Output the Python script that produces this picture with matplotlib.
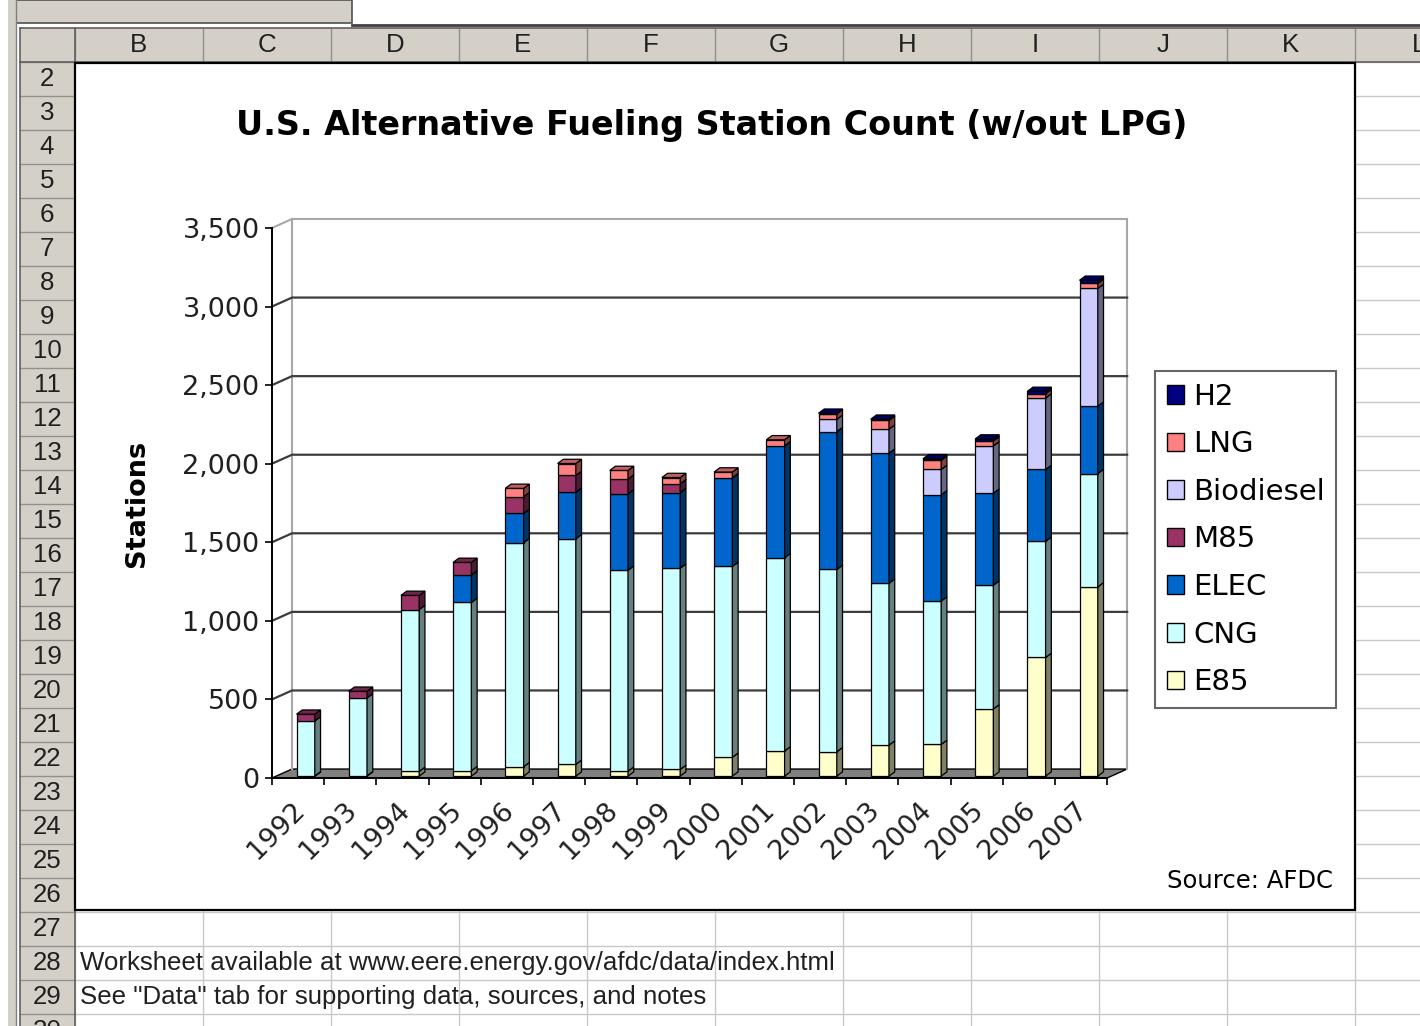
import matplotlib
matplotlib.use('Agg')
import matplotlib.pyplot as plt
from matplotlib.patches import Rectangle, Polygon, Patch
from matplotlib.colors import to_rgb
from matplotlib import font_manager
import numpy as np

# station counts, 1992-2007
years = [str(y) for y in range(1992, 2008)]
e85 = [1, 2, 30, 35, 60, 75, 32, 43, 120, 160, 155, 197, 202, 427, 755, 1204]
cng = [350, 495, 1030, 1070, 1425, 1435, 1278, 1280, 1214, 1230, 1160, 1030, 912, 788, 739, 721]
elec = [0, 0, 0, 175, 187, 296, 486, 481, 565, 712, 877, 828, 676, 585, 457, 429]
m85 = [43, 43, 90, 80, 106, 107, 94, 56, 0, 0, 0, 0, 0, 0, 0, 0]
biodiesel = [0, 0, 0, 0, 0, 0, 0, 0, 0, 0, 78, 153, 161, 301, 455, 749]
lng = [0, 0, 0, 0, 53, 76, 55, 40, 36, 38, 35, 55, 58, 32, 27, 32]
h2 = [0, 0, 0, 0, 0, 0, 0, 0, 0, 0, 4, 8, 10, 12, 15, 20]

series = ['E85', 'CNG', 'ELEC', 'M85', 'Biodiesel', 'LNG', 'H2']
values = [e85, cng, elec, m85, biodiesel, lng, h2]
colors = ['#FFFFCC', '#CCFFFF', '#0066CC', '#993366', '#CCCCFF', '#FF8080', '#000080']

yticks = list(range(0, 3501, 500))
col_letters = ['B', 'C', 'D', 'E', 'F', 'G', 'H', 'I', 'J', 'K', 'L']
row_numbers = list(range(2, 31))
notes = ['Worksheet available at www.eere.energy.gov/afdc/data/index.html',
         'See "Data" tab for supporting data, sources, and notes']

installed = {f.name for f in font_manager.fontManager.ttflist}
if 'Liberation Sans Narrow' in installed:
    sheet_font, sheet_fs = 'Liberation Sans Narrow', 21
else:
    sheet_font, sheet_fs = 'Liberation Sans', 18.6


def shade(c, f):
    return tuple(np.array(to_rgb(c)) * f)


fig = plt.figure(figsize=(14.2, 10.26), dpi=100)

############### spreadsheet background ###############
bg = fig.add_axes([0, 0, 1, 1])
bg.set_xlim(0, 1420)
bg.set_ylim(1026, 0)
bg.axis('off')

hdr = '#D4D0C8'
col_edges = [75 + 128 * k for k in range(11)]
row_edges = [62 + 34 * k for k in range(30)]

for x in col_edges:
    bg.plot([x, x], [62, 1026], color='#C8C8C8', lw=1)
for y in row_edges:
    bg.plot([75, 1420], [y, y], color='#C8C8C8', lw=1)

bg.add_patch(Rectangle((20, 62), 55, 964, fc=hdr, ec='none'))
bg.add_patch(Rectangle((20, 28), 1400, 34, fc=hdr, ec='none'))
for y in row_edges:
    bg.plot([20, 75], [y, y], color='#909090', lw=1)
for x in col_edges:
    bg.plot([x, x], [28, 62], color='#909090', lw=1)
bg.plot([75, 75], [28, 1026], color='#606060', lw=1.2)
bg.plot([20, 1420], [62, 62], color='#606060', lw=1.2)
bg.plot([20, 20], [28, 1026], color='#606060', lw=1.2)
bg.plot([20, 1420], [28, 28], color='#606060', lw=1.2)

bg.add_patch(Rectangle((15, 0), 337, 23, fc=hdr, ec='#505050', lw=1.2))
bg.plot([352, 1420], [25, 25], color='#404040', lw=2)
bg.add_patch(Rectangle((8, 0), 8, 1026, fc=hdr, ec='none'))
bg.plot([16, 16], [0, 1026], color='#808080', lw=1)

for k, letter in enumerate(col_letters):
    bg.text(col_edges[0] + 128 * k + 64, 45, letter, ha='center', va='center',
            fontsize=sheet_fs, family=sheet_font, color='#202020')
for k, n in enumerate(row_numbers):
    bg.text(47, 62 + 34 * k + 17, str(n), ha='center', va='center',
            fontsize=sheet_fs, family=sheet_font, color='#202020')

for k, line in enumerate(notes):
    bg.text(80, 963 + 34 * k, line, ha='left', va='center',
            fontsize=sheet_fs, family=sheet_font, color='#202020')

# chart area
bg.add_patch(Rectangle((75, 63), 1280, 847, fc='white', ec='black', lw=1.6, zorder=5))
bg.text(712, 125, 'U.S. Alternative Fueling Station Count (w/out LPG)', ha='center',
        va='center', fontsize=24, fontweight='bold', zorder=6)
bg.text(137, 503, 'Stations', ha='center', va='center', rotation=90, fontsize=19.5,
        fontweight='bold', zorder=6)
bg.text(1333, 881, 'Source: AFDC', ha='right', va='center', fontsize=17.5, zorder=6)

############### 3D-look stacked bars ###############
ax = fig.add_axes([262 / 1420, (1026 - 800) / 1026, 873 / 1420, 595 / 1026])
ax.set_xlim(-0.1916, 16.533)
ax.set_ylim(-140, 3646)
ax.patch.set_alpha(0)

n = len(years)
WX, WY = 0.383, 57          # wall depth offset
BX0, BW = 0.47, 0.35        # bar front position / width in a slot
DX, DY = 0.11, 27           # bar depth offset
B0 = 12

# floor and walls
ax.add_patch(Polygon([(0, 0), (n, 0), (n + WX, WY), (WX, WY)], closed=True,
                     fc='#808080', ec='black', lw=1, zorder=1))
wall = '#A8A8A8'
ax.plot([WX, WX], [WY, 3500 + WY], color=wall, lw=1.5, zorder=1)
ax.plot([n + WX, n + WX], [WY, 3500 + WY], color=wall, lw=1.5, zorder=1)
ax.plot([WX, n + WX], [3500 + WY] * 2, color=wall, lw=1.5, zorder=1)
ax.plot([0, WX], [3500, 3500 + WY], color=wall, lw=1.5, zorder=1)
for v in yticks[1:-1]:
    ax.plot([0, WX, n + WX], [v, v + WY, v + WY], color='#3C3C3C', lw=1.6, zorder=1)

for i in range(n):
    bottom = B0
    last = None
    for vals, c in zip(values, colors):
        v = vals[i]
        if v <= 0:
            continue
        x0 = i + BX0
        y0, y1 = bottom, bottom + v
        ax.add_patch(Rectangle((x0, y0), BW, v, fc=c, ec='black', lw=0.9, zorder=3))
        ax.add_patch(Polygon([(x0 + BW, y0), (x0 + BW + DX, y0 + DY),
                              (x0 + BW + DX, y1 + DY), (x0 + BW, y1)], closed=True,
                             fc=shade(c, 0.5), ec='black', lw=0.9, zorder=3))
        bottom = y1
        last = c
    x0 = i + BX0
    ax.add_patch(Polygon([(x0, bottom), (x0 + BW, bottom), (x0 + BW + DX, bottom + DY),
                          (x0 + DX, bottom + DY)], closed=True,
                         fc=shade(last, 0.75), ec='black', lw=0.9, zorder=3))

for s in ['top', 'right']:
    ax.spines[s].set_visible(False)
ax.spines['left'].set_position(('data', 0))
ax.spines['left'].set_bounds(0, 3500)
ax.spines['bottom'].set_position(('data', 0))
ax.spines['bottom'].set_bounds(0, n)
ax.spines['left'].set_linewidth(1.4)
ax.spines['bottom'].set_linewidth(1.4)

ax.set_yticks(yticks)
ax.set_yticklabels([f'{v:,}' for v in yticks])
ax.tick_params(axis='y', direction='out', length=5, width=1.2, labelsize=19.5,
               pad=4, labelcolor='#202020')
ax.set_xticks(range(n + 1))
ax.set_xticklabels([])
ax.set_xticks(np.arange(n) + 0.38, minor=True)
ax.set_xticklabels(years, minor=True, rotation=45, ha='right', rotation_mode='anchor')
ax.tick_params(axis='x', which='major', direction='out', length=5, width=1.2)
ax.tick_params(axis='x', which='minor', length=0, labelsize=19.5, pad=14,
               labelcolor='#202020')

handles = [Patch(fc=c, ec='black', lw=1) for c in colors[::-1]]
leg = fig.legend(handles, series[::-1], loc='center left',
                 bbox_to_anchor=(1155 / 1420, 1 - 539.5 / 1026), borderaxespad=0,
                 frameon=True, fancybox=False, edgecolor='#404040', fontsize=21,
                 handlelength=0.6, handleheight=0.6, handletextpad=0.3,
                 labelspacing=0.67, borderpad=0.4)
leg.get_frame().set_linewidth(1.5)

fig.savefig('out.png', dpi=100)
